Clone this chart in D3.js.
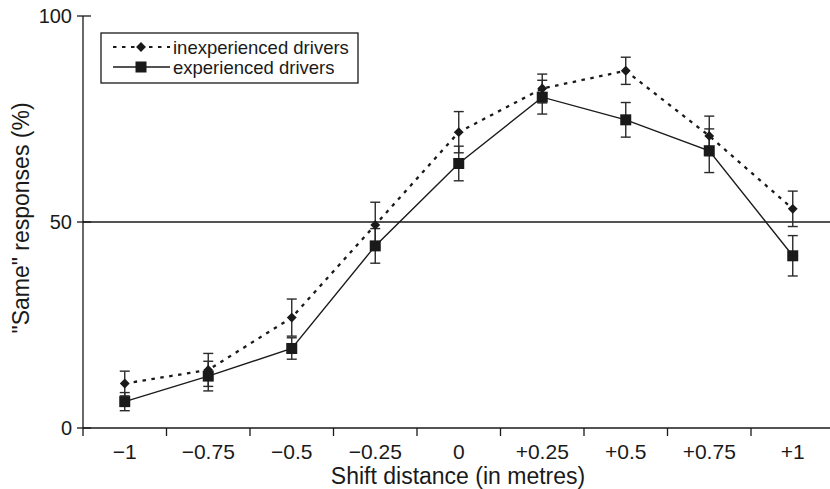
<!DOCTYPE html>
<html>
<head>
<meta charset="utf-8">
<script src="https://cdn.jsdelivr.net/npm/d3@7"></script>
<style>
  body { margin: 0; background: #fff; }
  svg text { font-family: "Liberation Sans", Arial, sans-serif; fill: #1a1a1a; }
</style>
</head>
<body>
<div id="chart"></div>
<script>
// data
var shifts = ["\u22121", "\u22120.75", "\u22120.5", "\u22120.25", "0", "+0.25", "+0.5", "+0.75", "+1"];
var inexperienced = [10.8, 14.1, 26.8, 49.3, 71.8, 82.4, 86.7, 70.9, 53.2];
var inexperiencedErr = [3.0, 4.0, 4.5, 5.5, 5.0, 3.5, 3.3, 4.8, 4.3];
var experienced = [6.4, 12.6, 19.3, 44.2, 64.2, 80.3, 74.8, 67.3, 41.8];
var experiencedErr = [2.2, 3.6, 2.6, 4.2, 4.2, 4.1, 4.2, 5.3, 4.9];
var yTicks = [0, 50, 100];

var width = 830, height = 489;

var svg = d3.select("#chart").append("svg")
  .attr("width", width)
  .attr("height", height);

var x = d3.scaleBand()
  .domain(shifts)
  .range([83, 834.5])
  .padding(0);

var y = d3.scaleLinear()
  .domain([0, 100])
  .range([428, 16]);

var cx = function(i) { return x(shifts[i]) + x.bandwidth() / 2; };

// reference line at 50 %
svg.append("line")
  .attr("x1", x.range()[0]).attr("x2", width)
  .attr("y1", y(50)).attr("y2", y(50))
  .attr("stroke", "#1a1a1a").attr("stroke-width", 1.3);

// x axis (ticks on category boundaries)
var xAxis = svg.append("g");
xAxis.append("line")
  .attr("x1", x.range()[0]).attr("x2", width)
  .attr("y1", y(0)).attr("y2", y(0))
  .attr("stroke", "#1a1a1a").attr("stroke-width", 1.3);
xAxis.selectAll(".xtick")
  .data(shifts)
  .enter().append("line")
  .attr("class", "xtick")
  .attr("x1", d => x(d)).attr("x2", d => x(d))
  .attr("y1", y(0)).attr("y2", y(0) + 8)
  .attr("stroke", "#1a1a1a").attr("stroke-width", 1.3);
xAxis.selectAll(".xlab")
  .data(shifts)
  .enter().append("text")
  .attr("class", "xlab")
  .attr("x", d => x(d) + x.bandwidth() / 2)
  .attr("y", y(0) + 31)
  .attr("text-anchor", "middle")
  .style("font-size", "21px")
  .text(d => d);

svg.append("text")
  .attr("x", 458)
  .attr("y", 484)
  .attr("text-anchor", "middle")
  .style("font-size", "23px")
  .text("Shift distance (in metres)");

// y axis
var yAxis = svg.append("g");
yAxis.append("line")
  .attr("x1", x.range()[0]).attr("x2", x.range()[0])
  .attr("y1", y(0)).attr("y2", y(100))
  .attr("stroke", "#1a1a1a").attr("stroke-width", 1.3);
yAxis.selectAll(".ytick")
  .data(yTicks)
  .enter().append("line")
  .attr("class", "ytick")
  .attr("x1", x.range()[0] - 6).attr("x2", x.range()[0] + 8)
  .attr("y1", d => y(d)).attr("y2", d => y(d))
  .attr("stroke", "#1a1a1a").attr("stroke-width", 1.3);
yAxis.selectAll(".ylab")
  .data(yTicks)
  .enter().append("text")
  .attr("class", "ylab")
  .attr("x", x.range()[0] - 11)
  .attr("y", d => y(d))
  .attr("dy", "0.36em")
  .attr("text-anchor", "end")
  .style("font-size", "20px")
  .text(d => d);

svg.append("text")
  .attr("transform", "translate(29," + (y(50) - 4) + ") rotate(-90)")
  .attr("text-anchor", "middle")
  .style("font-size", "23px")
  .text("\"Same\" responses (%)");

var line = d3.line()
  .x((d, i) => cx(i))
  .y(d => y(d));

// error bars
function errorBars(vals, errs) {
  var g = svg.append("g").attr("stroke", "#2a2a2a").attr("stroke-width", 1.4);
  vals.forEach(function(v, i) {
    var top = y(v + errs[i]), bot = y(v - errs[i]), xx = cx(i);
    g.append("line").attr("x1", xx).attr("x2", xx).attr("y1", top).attr("y2", bot);
    g.append("line").attr("x1", xx - 5).attr("x2", xx + 5).attr("y1", top).attr("y2", top);
    g.append("line").attr("x1", xx - 5).attr("x2", xx + 5).attr("y1", bot).attr("y2", bot);
  });
}
errorBars(inexperienced, inexperiencedErr);
errorBars(experienced, experiencedErr);

// lines
svg.append("path")
  .datum(inexperienced)
  .attr("fill", "none")
  .attr("stroke", "#1a1a1a")
  .attr("stroke-width", 2.3)
  .attr("stroke-dasharray", "3.5,5.5")
  .attr("d", line);

svg.append("path")
  .datum(experienced)
  .attr("fill", "none")
  .attr("stroke", "#1a1a1a")
  .attr("stroke-width", 1.4)
  .attr("d", line);

// markers
var diamond = d3.symbol().type(d3.symbolDiamond2).size(62);
svg.selectAll(".dia")
  .data(inexperienced)
  .enter().append("path")
  .attr("class", "dia")
  .attr("d", diamond)
  .attr("transform", (d, i) => "translate(" + cx(i) + "," + y(d) + ")")
  .attr("fill", "#1a1a1a");

svg.selectAll(".sq")
  .data(experienced)
  .enter().append("rect")
  .attr("class", "sq")
  .attr("x", (d, i) => cx(i) - 5.5)
  .attr("y", d => y(d) - 5.5)
  .attr("width", 11).attr("height", 11)
  .attr("fill", "#1a1a1a");

// legend
var lg = svg.append("g");
lg.append("rect")
  .attr("x", 101).attr("y", 33)
  .attr("width", 257).attr("height", 50)
  .attr("fill", "#fff")
  .attr("stroke", "#1a1a1a").attr("stroke-width", 1.3);
lg.append("line")
  .attr("x1", 113).attr("x2", 170).attr("y1", 47).attr("y2", 47)
  .attr("stroke", "#1a1a1a").attr("stroke-width", 2.2).attr("stroke-dasharray", "3.5,5.5");
lg.append("path")
  .attr("d", diamond)
  .attr("transform", "translate(141,47)")
  .attr("fill", "#1a1a1a");
lg.append("text")
  .attr("x", 173).attr("y", 47).attr("dy", "0.36em")
  .style("font-size", "18.5px")
  .text("inexperienced drivers");
lg.append("line")
  .attr("x1", 113).attr("x2", 170).attr("y1", 67).attr("y2", 67)
  .attr("stroke", "#1a1a1a").attr("stroke-width", 1.4);
lg.append("rect")
  .attr("x", 135.5).attr("y", 61.5).attr("width", 11).attr("height", 11)
  .attr("fill", "#1a1a1a");
lg.append("text")
  .attr("x", 173).attr("y", 67).attr("dy", "0.36em")
  .style("font-size", "18.5px")
  .text("experienced drivers");
</script>
</body>
</html>
